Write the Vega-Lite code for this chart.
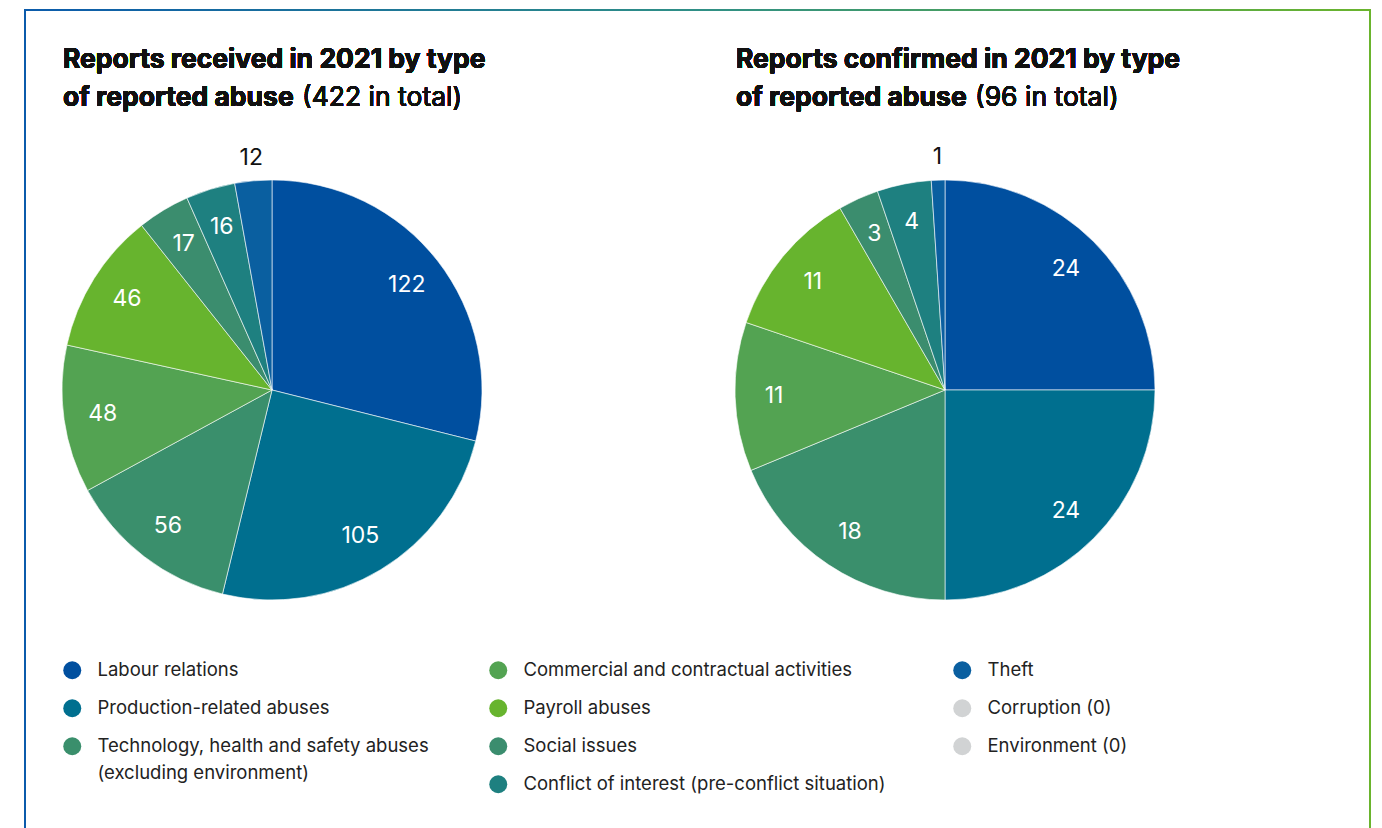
{
  "$schema": "https://vega.github.io/schema/vega-lite/v6.json",
  "width": 1345,
  "height": 830,
  "autosize": "none",
  "padding": {"left": 25, "top": 10, "right": 12, "bottom": -12},
  "background": "white",
  "config": {
    "font": "Inter",
    "view": {
      "stroke": {"gradient": "linear", "stops": [{"offset": 0, "color": "#0b5bab"}, {"offset": 0.5, "color": "#2f8f86"}, {"offset": 1, "color": "#6ab42d"}]},
      "strokeWidth": 2
    },
    "style": {"guide-label": {"lineHeight": 27}},
    "legend": {
      "orient": "none",
      "title": null,
      "symbolType": "circle",
      "symbolSize": 324,
      "symbolStrokeWidth": 0,
      "labelFont": "Inter",
      "labelFontSize": 18.5,
      "labelColor": "#222222",
      "labelOffset": 16,
      "labelLimit": 600,
      "rowPadding": 19,
      "padding": 0
    }
  },
  "datasets": {
    "reports": [
      {"chart": "Received", "type": "Labour relations", "value": 122, "idx": 1},
      {"chart": "Received", "type": "Production-related abuses", "value": 105, "idx": 2},
      {"chart": "Received", "type": "Technology, health and safety abuses (excluding environment)", "value": 56, "idx": 3},
      {"chart": "Received", "type": "Commercial and contractual activities", "value": 48, "idx": 4},
      {"chart": "Received", "type": "Payroll abuses", "value": 46, "idx": 5},
      {"chart": "Received", "type": "Social issues", "value": 17, "idx": 6},
      {"chart": "Received", "type": "Conflict of interest (pre-conflict situation)", "value": 16, "idx": 7},
      {"chart": "Received", "type": "Theft", "value": 12, "idx": 8},
      {"chart": "Confirmed", "type": "Labour relations", "value": 24, "idx": 1},
      {"chart": "Confirmed", "type": "Production-related abuses", "value": 24, "idx": 2},
      {"chart": "Confirmed", "type": "Technology, health and safety abuses (excluding environment)", "value": 18, "idx": 3},
      {"chart": "Confirmed", "type": "Commercial and contractual activities", "value": 11, "idx": 4},
      {"chart": "Confirmed", "type": "Payroll abuses", "value": 11, "idx": 5},
      {"chart": "Confirmed", "type": "Social issues", "value": 3, "idx": 6},
      {"chart": "Confirmed", "type": "Conflict of interest (pre-conflict situation)", "value": 4, "idx": 7},
      {"chart": "Confirmed", "type": "Theft", "value": 1, "idx": 8}
    ]
  },
  "data": {"name": "reports"},
  "resolve": {"scale": {"theta": "independent", "color": "independent"}, "legend": {"color": "independent"}},
  "layer": [
    {
      "transform": [{"filter": "datum.chart == 'Received'"}],
      "encoding": {
        "theta": {"field": "value", "type": "quantitative", "stack": true},
        "order": {"field": "idx", "type": "quantitative"},
        "x": {"field": "chart", "type": "nominal", "axis": null, "scale": {"domain": ["Received", "Confirmed"], "range": [247, 920], "padding": 0}},
        "y": {"field": "chart", "type": "nominal", "axis": null, "scale": {"domain": ["Received", "Confirmed"], "range": [380, 380], "padding": 0}}
      },
      "layer": [
        {
          "mark": {"type": "arc", "outerRadius": 210, "stroke": "white", "strokeWidth": 0.6},
          "encoding": {
            "color": {
              "field": "type", "type": "nominal",
              "scale": {
                "domain": ["Labour relations", "Production-related abuses", "Technology, health and safety abuses (excluding environment)", "Commercial and contractual activities", "Payroll abuses", "Social issues", "Conflict of interest (pre-conflict situation)", "Theft"],
                "range": ["#004f9f", "#006f8f", "#3a8f6c", "#53a352", "#67b42e", "#3b8d6e", "#1e8080", "#0a5fa0"]
              },
              "legend": {
                "values": ["Labour relations", "Production-related abuses", "Technology, health and safety abuses (excluding environment)"],
                "legendX": 38, "legendY": 651,
                "labelExpr": "datum.label == 'Technology, health and safety abuses (excluding environment)' ? ['Technology, health and safety abuses', '(excluding environment)'] : datum.label"
              }
            }
          }
        },
        {
          "mark": {"type": "text", "radius": 171, "fontSize": 23, "font": "Inter"},
          "encoding": {
            "detail": {"field": "type", "type": "nominal"},
            "color": {"value": "white"},
            "text": {"condition": {"test": "datum.type == 'Theft'", "value": ""}, "field": "value", "type": "quantitative"}
          }
        },
        {
          "mark": {"type": "text", "radius": 233, "fontSize": 23, "font": "Inter"},
          "encoding": {
            "detail": {"field": "type", "type": "nominal"},
            "color": {"value": "#111111"},
            "text": {"condition": {"test": "datum.type != 'Theft'", "value": ""}, "field": "value", "type": "quantitative"}
          }
        }
      ]
    },
    {
      "transform": [{"filter": "datum.chart == 'Confirmed'"}],
      "encoding": {
        "theta": {"field": "value", "type": "quantitative", "stack": true},
        "order": {"field": "idx", "type": "quantitative"},
        "x": {"field": "chart", "type": "nominal", "axis": null},
        "y": {"field": "chart", "type": "nominal", "axis": null}
      },
      "layer": [
        {
          "mark": {"type": "arc", "outerRadius": 210, "stroke": "white", "strokeWidth": 0.6},
          "encoding": {
            "color": {
              "field": "type", "type": "nominal",
              "scale": {
                "domain": ["Labour relations", "Production-related abuses", "Technology, health and safety abuses (excluding environment)", "Commercial and contractual activities", "Payroll abuses", "Social issues", "Conflict of interest (pre-conflict situation)", "Theft"],
                "range": ["#004f9f", "#006f8f", "#3a8f6c", "#53a352", "#67b42e", "#3b8d6e", "#1e8080", "#0a5fa0"]
              },
              "legend": {
                "values": ["Commercial and contractual activities", "Payroll abuses", "Social issues", "Conflict of interest (pre-conflict situation)"],
                "legendX": 464, "legendY": 651
              }
            }
          }
        },
        {
          "mark": {"type": "text", "radius": 171, "fontSize": 23, "font": "Inter"},
          "encoding": {
            "detail": {"field": "type", "type": "nominal"},
            "color": {"value": "white"},
            "text": {"condition": {"test": "datum.type == 'Theft'", "value": ""}, "field": "value", "type": "quantitative"}
          }
        },
        {
          "mark": {"type": "text", "radius": 233, "fontSize": 23, "font": "Inter"},
          "encoding": {
            "detail": {"field": "type", "type": "nominal"},
            "color": {"value": "#111111"},
            "text": {"condition": {"test": "datum.type != 'Theft'", "value": ""}, "field": "value", "type": "quantitative"}
          }
        }
      ]
    },
    {
      "transform": [{"filter": "false"}],
      "mark": {"type": "point", "filled": true},
      "encoding": {
        "color": {
          "field": "type", "type": "nominal",
          "scale": {"domain": ["Theft", "Corruption (0)", "Environment (0)"], "range": ["#0a5fa0", "#d1d3d4", "#d1d3d4"]},
          "legend": {"legendX": 928, "legendY": 651, "symbolOpacity": 1}
        }
      }
    },
    {
      "mark": {"type": "text", "align": "left", "baseline": "alphabetic", "fontSize": 26.5, "fontWeight": "bold", "font": "Inter", "lineHeight": 38, "color": "#111111"},
      "encoding": {"x": {"value": 38}, "y": {"value": 58}, "text": {"value": ["Reports received in 2021 by type", "of reported abuse"]}}
    },
    {
      "mark": {"type": "text", "align": "left", "baseline": "alphabetic", "fontSize": 26.5, "fontWeight": "normal", "font": "Inter", "color": "#111111"},
      "encoding": {"x": {"value": 277}, "y": {"value": 96}, "text": {"value": "(422 in total)"}}
    },
    {
      "mark": {"type": "text", "align": "left", "baseline": "alphabetic", "fontSize": 26.5, "fontWeight": "bold", "font": "Inter", "lineHeight": 38, "color": "#111111"},
      "encoding": {"x": {"value": 711}, "y": {"value": 58}, "text": {"value": ["Reports confirmed in 2021 by type", "of reported abuse"]}}
    },
    {
      "mark": {"type": "text", "align": "left", "baseline": "alphabetic", "fontSize": 26.5, "fontWeight": "normal", "font": "Inter", "color": "#111111"},
      "encoding": {"x": {"value": 950}, "y": {"value": 96}, "text": {"value": "(96 in total)"}}
    }
  ]
}
